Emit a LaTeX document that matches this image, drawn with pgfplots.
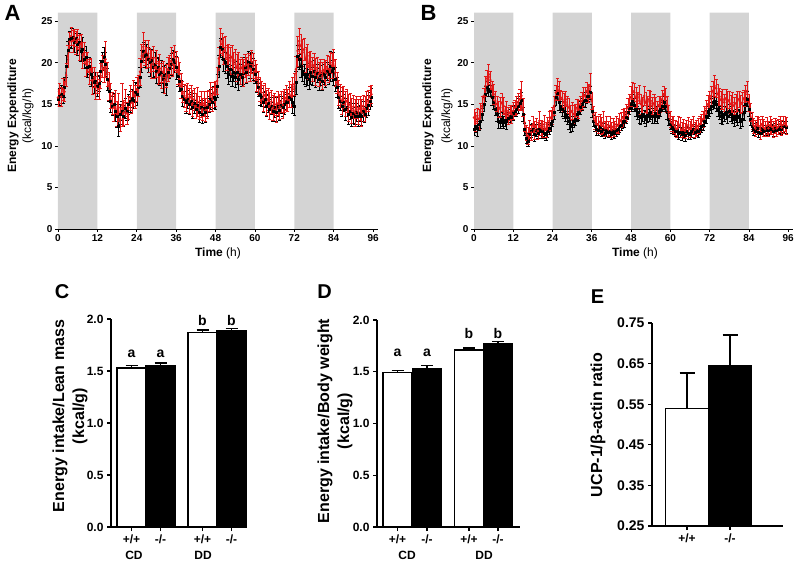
\documentclass[border=0pt]{standalone}
\usepackage{fontspec}
\setmainfont{Liberation Sans}
\usepackage{pgfplots}
\pgfplotsset{compat=1.18}
\usepackage{pgfplotstable}
\definecolor{band}{RGB}{212,212,212}
\definecolor{myred}{RGB}{226,22,22}

\pgfplotstableread{
t r re b be
0 15.8 1.0 15.6 0.9
0.5 16.3 1.2 15.9 1.0
1 15.9 1.1 16.2 1.1
1.5 16.8 1.3 16.0 0.9
2 16.5 1.2 17.0 1.2
2.5 18.5 1.4 19.6 1.3
3 20.8 1.3 21.5 1.1
3.5 22.5 1.2 22.8 1.0
4 23.2 1.1 22.9 1.2
4.5 22.6 1.3 23.1 1.0
5 23.0 1.0 22.4 1.1
5.5 22.4 1.4 22.9 0.9
6 22.8 1.2 22.2 1.3
6.5 21.8 1.5 22.5 1.0
7 22.3 1.1 21.4 1.2
7.5 20.9 1.6 21.6 1.4
8 21.2 1.3 20.4 1.1
8.5 19.8 1.4 20.7 1.3
9 20.1 1.2 19.5 1.2
9.5 18.9 1.5 19.6 1.0
10 19.2 1.3 18.6 1.4
10.5 17.8 1.6 18.3 1.2
11 18.2 1.2 17.6 1.3
11.5 17.0 1.4 17.8 1.1
12 17.6 1.3 17.2 1.2
12.5 16.8 1.2 17.5 1.0
13 18.4 1.5 19.0 1.3
13.5 19.6 1.3 20.2 1.1
14 19.2 1.6 20.6 1.2
14.5 20.4 2.2 19.8 1.4
15 18.6 1.4 18.0 1.3
15.5 17.2 1.7 16.6 1.2
16 16.0 1.5 15.4 1.4
16.5 15.1 1.3 14.8 1.1
17 14.6 1.6 15.0 1.3
17.5 15.3 1.4 14.2 1.2
18 13.8 1.5 13.6 1.4
18.5 14.6 1.7 12.4 1.3
19 13.2 1.4 13.8 1.2
19.5 14.9 2.6 14.2 1.1
20 14.0 1.5 13.6 1.3
20.5 15.2 1.6 14.5 1.2
21 13.9 1.3 14.1 1.0
21.5 14.6 1.4 15.0 1.2
22 15.8 1.5 15.3 1.3
22.5 15.2 1.3 15.7 1.1
23 16.3 1.6 15.5 1.0
23.5 15.9 1.4 16.4 1.2
24 16.8 1.5 16.2 1.3
24.5 17.2 1.3 17.0 1.1
25 18.9 1.6 18.2 1.2
25.5 20.8 1.4 20.2 1.3
26 21.9 1.8 21.4 1.1
26.5 21.2 1.5 20.8 1.4
27 20.6 1.3 21.0 1.2
27.5 21.1 1.6 20.4 1.5
28 20.3 1.4 20.0 1.6
28.5 19.8 1.7 20.3 1.3
29 20.5 1.5 19.4 1.2
29.5 19.4 1.3 19.8 1.4
30 19.9 1.6 19.0 1.5
30.5 18.8 1.4 19.4 1.2
31 19.3 1.7 18.6 1.3
31.5 18.4 1.5 18.9 1.4
32 18.9 1.3 18.0 1.6
32.5 17.9 1.6 18.5 1.2
33 18.4 1.4 17.4 1.3
33.5 19.2 1.5 18.8 1.1
34 19.6 1.3 19.3 1.2
34.5 20.2 1.6 19.8 1.3
35 19.8 1.4 20.4 1.1
35.5 20.6 1.5 20.0 1.2
36 20.1 1.3 19.4 1.4
36.5 19.0 1.6 18.4 1.2
37 18.6 1.4 17.8 1.3
37.5 17.2 1.5 16.8 1.1
38 16.5 1.3 16.0 1.2
38.5 16.0 1.4 15.6 1.0
39 15.7 1.6 15.2 1.3
39.5 16.2 1.3 15.6 1.1
40 15.4 1.5 15.0 1.2
40.5 15.9 1.4 15.4 1.0
41 15.1 1.6 14.6 1.3
41.5 15.6 1.3 15.1 1.2
42 14.8 1.5 14.4 1.1
42.5 15.3 1.7 14.9 1.0
43 14.6 1.4 14.0 1.2
43.5 15.0 1.6 14.6 0.9
44 14.4 1.3 13.8 1.1
44.5 15.1 1.5 14.5 1.0
45 14.3 1.4 14.0 1.2
45.5 14.9 1.6 14.6 1.1
46 15.4 1.3 15.0 1.0
46.5 16.1 1.5 15.6 1.2
47 15.6 1.4 15.2 1.1
47.5 16.4 1.2 15.8 1.3
48 16.2 1.5 15.6 1.2
48.5 17.8 1.6 17.2 1.4
49 20.5 1.4 19.6 1.3
49.5 22.6 1.5 21.8 1.1
50 22.2 1.3 21.6 1.2
50.5 21.4 1.6 20.4 1.4
51 21.8 1.4 20.0 1.3
51.5 20.6 1.5 19.6 1.5
52 20.9 1.3 18.6 1.2
52.5 20.2 1.6 19.2 1.4
53 20.7 1.4 18.4 1.3
53.5 19.8 1.5 18.9 1.1
54 20.3 1.3 18.2 1.2
54.5 19.4 1.6 18.8 1.4
55 19.9 1.4 18.0 1.3
55.5 18.9 1.5 18.6 1.2
56 19.4 1.3 18.2 1.1
56.5 18.8 1.6 18.7 1.3
57 19.6 1.4 19.4 1.2
57.5 19.1 1.5 18.9 1.4
58 19.8 1.3 20.1 1.3
58.5 19.3 1.6 19.6 1.5
59 20.1 1.4 20.0 1.2
59.5 19.6 1.5 19.2 1.3
60 19.0 1.3 18.6 1.1
60.5 18.2 1.6 17.6 1.2
61 17.6 1.4 17.0 1.0
61.5 16.8 1.5 16.2 1.3
62 16.4 1.3 15.8 1.1
62.5 15.7 1.6 15.2 1.2
63 16.1 1.4 15.6 1.0
63.5 15.2 1.5 14.8 1.3
64 15.6 1.3 15.1 1.1
64.5 14.8 1.6 14.4 1.2
65 15.3 1.4 14.8 1.0
65.5 14.6 1.5 14.1 1.1
66 15.0 1.3 14.6 1.2
66.5 14.4 1.6 14.0 1.0
67 15.1 1.4 14.7 1.1
67.5 14.7 1.5 14.3 1.2
68 15.3 1.3 14.9 1.0
68.5 14.9 1.6 14.6 1.1
69 15.4 1.4 15.0 1.2
69.5 15.8 1.5 15.4 1.0
70 15.5 1.3 15.2 1.1
70.5 16.2 1.6 15.8 1.2
71 16.0 1.4 15.6 1.0
71.5 16.8 1.5 15.2 1.3
72 17.4 1.3 14.8 1.1
72.5 19.2 1.6 17.6 1.4
73 21.4 1.8 20.8 1.3
73.5 22.6 1.5 20.4 1.2
74 22.0 1.4 19.6 1.4
74.5 21.2 1.6 19.0 1.3
75 21.6 1.3 18.6 1.2
75.5 20.4 1.5 18.2 1.1
76 20.8 1.4 18.6 1.3
76.5 19.6 1.6 18.0 1.2
77 20.1 1.3 18.8 1.4
77.5 19.2 1.5 18.4 1.1
78 19.7 1.4 19.0 1.3
78.5 18.9 1.6 18.2 1.2
79 19.4 1.3 18.7 1.1
79.5 18.6 1.5 18.0 1.3
80 19.0 1.4 18.5 1.2
80.5 18.4 1.6 17.8 1.1
81 19.1 1.3 18.6 1.2
81.5 18.8 1.5 18.3 1.3
82 19.5 1.4 19.0 1.1
82.5 19.2 1.6 18.6 1.2
83 20.0 1.3 19.6 1.8
83.5 19.6 1.5 19.0 1.3
84 20.2 1.4 19.3 2.0
84.5 18.8 1.6 18.0 1.4
85 17.6 1.3 17.0 1.2
85.5 16.4 1.5 15.8 1.3
86 16.0 1.4 15.4 1.1
86.5 15.4 1.6 14.8 1.2
87 15.8 1.3 15.2 1.0
87.5 15.0 1.5 14.4 1.3
88 15.4 1.4 14.6 1.1
88.5 14.6 1.6 13.8 1.2
89 15.0 1.3 14.2 1.0
89.5 14.2 1.5 13.4 1.1
90 14.7 1.4 13.9 1.2
90.5 14.0 1.6 13.6 1.0
91 14.6 1.3 14.0 1.1
91.5 14.1 1.5 13.5 1.2
92 14.5 1.4 13.9 1.0
92.5 14.0 1.6 13.6 1.1
93 14.8 1.3 14.2 1.2
93.5 14.4 1.5 13.8 1.0
94 15.1 1.4 14.5 1.1
94.5 15.4 1.3 14.9 1.2
95 15.9 1.2 15.4 1.0
95.5 16.2 1.1 15.8 1.1
}\dataA

\pgfplotstableread{
t r re b be
0 13.4 1.0 12.0 0.7
0.5 12.9 1.1 12.4 0.8
1 13.6 0.9 12.1 0.9
1.5 13.2 1.2 12.6 0.7
2 14.1 1.0 12.9 0.8
2.5 14.8 1.1 13.8 0.7
3 16.0 0.9 15.0 0.8
3.5 17.2 1.2 16.2 0.9
4 18.1 1.0 17.0 0.7
4.5 18.6 1.2 16.8 0.8
5 17.9 1.1 16.6 0.7
5.5 16.8 1.0 15.8 0.9
6 16.2 1.2 15.2 0.8
6.5 15.4 1.1 14.4 0.7
7 15.0 0.9 13.8 0.8
7.5 14.4 1.0 13.0 0.9
8 14.6 1.2 12.8 0.7
8.5 15.2 1.1 13.2 0.8
9 14.8 1.0 12.8 0.7
9.5 13.8 0.9 13.1 0.8
10 14.2 1.1 12.9 0.9
10.5 13.6 1.0 13.3 0.7
11 14.0 0.9 13.6 0.8
11.5 13.8 1.1 13.4 0.7
12 14.2 1.0 13.9 0.8
12.5 14.6 0.9 14.2 0.7
13 14.9 1.1 14.4 0.8
13.5 15.3 1.0 14.8 0.9
14 15.6 1.2 15.1 0.8
14.5 16.0 1.7 15.5 0.9
15 14.6 1.1 13.8 0.8
15.5 12.8 1.0 12.0 0.7
16 11.6 0.9 10.9 0.6
16.5 11.2 1.0 10.6 0.6
17 12.0 1.1 11.4 0.7
17.5 11.6 0.9 11.8 0.8
18 12.6 1.0 12.0 0.7
18.5 11.9 1.1 11.4 0.8
19 12.4 0.9 11.9 0.7
19.5 11.8 1.0 11.5 0.6
20 13.0 1.1 12.0 0.7
20.5 12.2 0.9 11.7 0.8
21 12.0 1.0 11.9 0.7
21.5 12.6 1.1 11.5 0.6
22 11.9 0.9 11.4 0.7
22.5 12.4 1.0 11.8 0.8
23 13.0 1.1 12.1 0.7
23.5 13.4 0.9 12.6 0.8
24 13.6 1.0 13.0 0.7
24.5 14.8 1.1 14.0 0.8
25 16.4 0.9 15.8 0.9
25.5 17.1 1.0 16.3 0.8
26 16.6 1.1 15.2 0.9
26.5 15.8 0.9 14.8 0.8
27 15.6 1.0 14.4 0.9
27.5 15.2 1.1 14.1 0.8
28 15.6 0.9 13.8 0.9
28.5 14.9 1.0 13.4 0.8
29 14.6 1.1 12.9 0.9
29.5 14.0 0.9 12.4 0.8
30 14.2 1.0 12.6 0.9
30.5 13.8 1.1 13.0 0.8
31 14.1 0.9 13.2 0.7
31.5 14.6 1.0 13.8 0.8
32 14.4 1.1 14.0 0.9
32.5 15.0 0.9 14.6 0.8
33 15.4 1.0 15.0 0.7
33.5 15.9 1.1 15.4 0.8
34 16.1 0.9 15.5 0.9
34.5 16.6 1.0 15.9 0.8
35 16.3 1.1 16.0 0.7
35.5 17.2 1.5 16.4 0.8
36 15.4 1.0 14.2 0.8
36.5 13.8 0.9 13.0 0.7
37 13.0 1.0 12.4 0.6
37.5 12.6 0.9 12.0 0.7
38 12.5 1.0 11.9 0.6
38.5 12.9 0.9 12.2 0.7
39 12.4 1.0 11.8 0.6
39.5 12.8 1.3 12.0 0.7
40 12.1 0.9 11.5 0.6
40.5 12.5 1.0 11.9 0.7
41 12.0 0.9 11.6 0.6
41.5 12.4 1.1 11.8 0.7
42 11.9 0.9 11.4 0.6
42.5 12.3 1.0 11.7 0.7
43 12.0 0.9 11.5 0.6
43.5 12.6 1.0 11.9 0.7
44 12.4 0.9 12.0 0.6
44.5 12.9 1.0 12.3 0.7
45 13.1 0.9 12.5 0.6
45.5 13.4 1.0 12.8 0.7
46 13.6 0.9 13.0 0.8
46.5 14.0 1.0 13.4 0.7
47 14.6 1.1 14.0 0.8
47.5 15.2 1.0 14.5 0.7
48 15.9 1.2 15.0 0.8
48.5 16.6 1.0 15.3 0.9
49 16.4 1.1 14.9 0.8
49.5 15.8 1.2 14.4 0.9
50 15.4 1.0 14.0 0.8
50.5 16.2 1.1 13.6 0.9
51 15.0 1.2 13.4 0.8
51.5 14.8 1.0 13.8 0.9
52 16.0 1.1 13.5 0.8
52.5 15.2 1.2 13.2 0.9
53 14.9 1.0 13.6 0.8
53.5 15.6 1.1 13.9 0.9
54 15.4 1.2 14.0 0.8
54.5 14.8 1.0 13.6 0.9
55 15.1 1.1 13.5 0.8
55.5 14.6 1.2 13.9 0.9
56 14.4 1.0 13.5 0.8
56.5 14.9 1.1 14.0 0.7
57 15.0 1.0 14.4 0.8
57.5 15.6 1.1 14.8 0.7
58 16.2 1.0 15.2 0.8
58.5 15.8 1.1 14.8 0.7
59 15.0 1.0 14.0 0.8
59.5 14.0 0.9 13.2 0.7
60 13.2 1.0 12.6 0.6
60.5 12.7 0.9 12.2 0.7
61 12.5 1.0 12.0 0.6
61.5 12.2 0.9 11.8 0.7
62 12.0 1.0 11.9 0.6
62.5 12.6 0.9 11.5 0.7
63 12.4 1.0 11.6 0.6
63.5 11.9 0.9 11.4 0.7
64 12.2 1.0 11.6 0.6
64.5 11.8 0.9 11.3 0.7
65 12.1 1.0 11.8 0.6
65.5 12.5 0.9 11.5 0.7
66 12.0 1.0 11.4 0.6
66.5 12.3 0.9 11.7 0.7
67 12.5 1.0 12.0 0.6
67.5 11.9 0.9 11.6 0.7
68 12.1 1.0 11.9 0.6
68.5 12.4 0.9 11.7 0.7
69 12.6 1.0 12.0 0.6
69.5 12.9 0.9 12.3 0.7
70 13.2 1.0 12.5 0.6
70.5 13.8 0.9 13.0 0.7
71 14.5 1.0 13.5 0.8
71.5 15.0 1.1 14.0 0.7
72 15.6 1.0 14.4 0.8
72.5 16.0 1.1 14.8 0.9
73 16.6 1.2 15.2 0.8
73.5 17.2 1.3 15.4 0.9
74 16.9 1.1 15.0 0.8
74.5 16.2 1.2 14.4 0.9
75 15.9 1.0 14.0 0.8
75.5 15.5 1.1 13.6 0.9
76 15.6 1.2 13.4 0.8
76.5 15.2 1.0 13.8 0.9
77 15.7 1.1 14.0 0.8
77.5 15.3 1.2 13.6 0.9
78 15.5 1.0 14.2 0.8
78.5 15.0 1.1 13.8 0.9
79 15.2 1.2 13.5 0.8
79.5 14.8 1.0 13.2 0.9
80 15.1 1.1 13.6 0.8
80.5 15.4 1.2 13.4 0.9
81 15.6 1.0 13.6 0.8
81.5 15.0 1.1 13.0 0.9
82 15.2 1.2 13.2 0.8
82.5 15.7 1.0 14.0 0.9
83 16.2 1.1 15.0 0.8
83.5 16.6 1.2 15.6 0.9
84 15.2 1.0 14.4 0.8
84.5 14.0 1.1 13.2 0.7
85 13.0 1.0 12.4 0.6
85.5 12.4 0.9 12.0 0.7
86 12.1 1.0 11.8 0.6
86.5 12.6 0.9 12.1 0.7
87 12.4 1.0 11.6 0.6
87.5 12.0 1.2 11.5 0.7
88 12.6 0.9 12.0 0.6
88.5 12.2 1.0 11.8 0.7
89 12.0 0.9 11.9 0.6
89.5 12.4 1.0 12.2 0.7
90 12.1 0.9 11.9 0.6
90.5 12.5 1.0 12.1 0.7
91 12.3 0.9 12.0 0.6
91.5 12.0 1.0 11.8 0.7
92 12.4 0.9 12.1 0.6
92.5 12.1 1.0 11.9 0.7
93 12.3 0.9 12.0 0.6
93.5 12.6 1.0 12.2 0.7
94 12.2 0.9 12.0 0.6
94.5 12.5 1.0 12.3 0.7
95 12.7 0.9 12.4 0.6
95.5 12.4 1.0 12.2 0.7
}\dataB

\pgfplotsset{
  tsaxis/.style={
    anchor=south west, scale only axis, width=320pt, height=216.3pt,
    xmin=0, xmax=97.5, ymin=0, ymax=26,
    axis lines*=left, axis line style={line width=0.8pt},
    xtick={0,12,...,96}, ytick={0,5,...,25},
    tick align=outside, major tick length=3pt,
    tick style={black, line width=0.6pt},
    tick label style={font=\bfseries\fontsize{10}{12}\selectfont},
    /pgf/number format/assume math mode=true,
    xticklabel style={yshift=1pt}, yticklabel style={xshift=1pt},
  },
  blk/.style={black, line width=0.5pt, mark=square*, mark size=1pt,
    error bars/y dir=both, error bars/y explicit,
    error bars/error bar style={line width=0.5pt, black},
    error bars/error mark options={rotate=90, mark size=1.6pt, line width=0.5pt, black}},
  rd/.style={myred, line width=0.5pt, mark=*, mark size=1pt,
    error bars/y dir=both, error bars/y explicit,
    error bars/error bar style={line width=0.5pt, myred},
    error bars/error mark options={rotate=90, mark size=1.6pt, line width=0.5pt, myred}},
  barax/.style={
    anchor=south west, scale only axis, axis lines*=left,
    axis line style={line width=1.5pt}, clip mode=individual,
    tick align=outside, major tick length=4pt,
    tick style={black, line width=1.3pt},
    tick label style={font=\bfseries\fontsize{12}{14}\selectfont},
    /pgf/number format/assume math mode=true,
  },
  errcap/.style={error bars/error mark options={rotate=90, mark size=#1, line width=1.4pt, black}},
  wbar/.style={ybar, bar width=29, bar shift=0pt, fill=white, draw=black, line width=1.4pt,
    error bars/y dir=plus, error bars/y explicit,
    error bars/error bar style={line width=1.4pt, black}, errcap=6pt},
  kbar/.style={ybar, bar width=29, bar shift=0pt, fill=black, draw=black, line width=1.4pt,
    error bars/y dir=plus, error bars/y explicit,
    error bars/error bar style={line width=1.4pt, black}, errcap=6pt},
}

\begin{document}
\begin{tikzpicture}
\path[use as bounding box] (0pt,0pt) rectangle (800pt,562pt);

% ---------- Panel A ----------
\begin{axis}[tsaxis, at={(58pt,333pt)}]
\addplot[fill=band, draw=none] coordinates {(0,0) (0,26) (12,26) (12,0)} \closedcycle;
\addplot[fill=band, draw=none] coordinates {(24,0) (24,26) (36,26) (36,0)} \closedcycle;
\addplot[fill=band, draw=none] coordinates {(48,0) (48,26) (60,26) (60,0)} \closedcycle;
\addplot[fill=band, draw=none] coordinates {(72,0) (72,26) (84,26) (84,0)} \closedcycle;
\addplot[blk] table[x=t, y=b, y error=be] {\dataA};
\addplot[rd] table[x=t, y=r, y error=re] {\dataA};
\end{axis}

% ---------- Panel B ----------
\begin{axis}[tsaxis, at={(474pt,333pt)}, width=319pt]
\addplot[fill=band, draw=none] coordinates {(0,0) (0,26) (12,26) (12,0)} \closedcycle;
\addplot[fill=band, draw=none] coordinates {(24,0) (24,26) (36,26) (36,0)} \closedcycle;
\addplot[fill=band, draw=none] coordinates {(48,0) (48,26) (60,26) (60,0)} \closedcycle;
\addplot[fill=band, draw=none] coordinates {(72,0) (72,26) (84,26) (84,0)} \closedcycle;
\addplot[blk] table[x=t, y=b, y error=be] {\dataB};
\addplot[rd] table[x=t, y=r, y error=re] {\dataB};
\end{axis}

% labels top
\node[font=\bfseries\fontsize{22}{24}\selectfont] at (12.5pt,549pt) {A};
\node[font=\bfseries\fontsize{22}{24}\selectfont] at (428.5pt,549pt) {B};
\node[rotate=90, font=\bfseries\fontsize{12}{14}\selectfont] at (13pt,446pt) {Energy Expenditure};
\node[rotate=90, font=\fontsize{12}{14}\selectfont] at (28pt,446pt) {(kcal/kg/h)};
\node[rotate=90, font=\bfseries\fontsize{12}{14}\selectfont] at (428pt,446pt) {Energy Expenditure};
\node[rotate=90, font=\fontsize{12}{14}\selectfont] at (447pt,446pt) {(kcal/kg/h)};
\node[font=\fontsize{12}{14}\selectfont] at (218pt,309pt) {\textbf{Time} (h)};
\node[font=\fontsize{12}{14}\selectfont] at (635pt,309pt) {\textbf{Time} (h)};

% ---------- Panel C ----------
\begin{axis}[barax, at={(111pt,35pt)}, width=136pt, height=208pt,
  xmin=0, xmax=136, ymin=0, ymax=2,
  xtick={20.5,49.5,91.5,120.5}, xticklabels={+/+,-/-,+/+,-/-},
  ytick={0,0.5,1,1.5,2},
  yticklabel style={/pgf/number format/.cd, fixed, fixed zerofill, precision=1}]
\addplot[wbar] coordinates {(20.5,1.53) +- (0,0.02) (91.5,1.87) +- (0,0.025)};
\addplot[kbar] coordinates {(49.5,1.55) +- (0,0.025) (120.5,1.89) +- (0,0.02)};
\node[font=\bfseries\fontsize{14}{16}\selectfont] at (axis cs:20.5,1.67) {a};
\node[font=\bfseries\fontsize{14}{16}\selectfont] at (axis cs:49.5,1.67) {a};
\node[font=\bfseries\fontsize{14}{16}\selectfont] at (axis cs:91.5,1.99) {b};
\node[font=\bfseries\fontsize{14}{16}\selectfont] at (axis cs:120.5,1.99) {b};
\end{axis}
\node[font=\bfseries\fontsize{12}{14}\selectfont] at (134pt,7pt) {CD};
\node[font=\bfseries\fontsize{12}{14}\selectfont] at (203pt,7pt) {DD};
\node[font=\bfseries\fontsize{20}{22}\selectfont] at (62pt,270pt) {C};
\node[rotate=90, font=\bfseries\fontsize{16}{18}\selectfont] at (60pt,146pt) {Energy intake/Lean mass};
\node[rotate=90, font=\bfseries\fontsize{16}{18}\selectfont] at (80pt,146pt) {(kcal/g)};

% ---------- Panel D ----------
\begin{axis}[barax, at={(377pt,35pt)}, width=143pt, height=207pt,
  xmin=0, xmax=143, ymin=0, ymax=2,
  xtick={20.5,50,92,121}, xticklabels={+/+,-/-,+/+,-/-},
  ytick={0,0.5,1,1.5,2},
  yticklabel style={/pgf/number format/.cd, fixed, fixed zerofill, precision=1}]
\addplot[wbar] coordinates {(20.5,1.49) +- (0,0.02) (92,1.71) +- (0,0.02)};
\addplot[kbar] coordinates {(50,1.53) +- (0,0.03) (121,1.77) +- (0,0.02)};
\node[font=\bfseries\fontsize{14}{16}\selectfont] at (axis cs:20.5,1.68) {a};
\node[font=\bfseries\fontsize{14}{16}\selectfont] at (axis cs:50,1.68) {a};
\node[font=\bfseries\fontsize{14}{16}\selectfont] at (axis cs:92,1.87) {b};
\node[font=\bfseries\fontsize{14}{16}\selectfont] at (axis cs:121,1.87) {b};
\end{axis}
\node[font=\bfseries\fontsize{12}{14}\selectfont] at (407pt,7pt) {CD};
\node[font=\bfseries\fontsize{12}{14}\selectfont] at (484pt,7pt) {DD};
\node[font=\bfseries\fontsize{20}{22}\selectfont] at (324.5pt,270pt) {D};
\node[rotate=90, font=\bfseries\fontsize{16}{18}\selectfont] at (325pt,141pt) {Energy intake/Body weight};
\node[rotate=90, font=\bfseries\fontsize{16}{18}\selectfont] at (345pt,141pt) {(kcal/g)};

% ---------- Panel E ----------
\begin{axis}[barax, at={(652pt,36pt)}, width=131pt, height=203pt,
  xmin=0, xmax=131, ymin=0.25, ymax=0.75,
  xtick={35,78}, xticklabels={+/+,-/-},
  ytick={0.25,0.35,0.45,0.55,0.65,0.75},
  yticklabel style={font=\bfseries\fontsize{14}{16}\selectfont, /pgf/number format/.cd, fixed, fixed zerofill, precision=2}]
\addplot[wbar, bar width=43, errcap=7.5pt] coordinates {(35,0.54) +- (0,0.087)};
\addplot[kbar, bar width=43, errcap=7.5pt] coordinates {(78,0.645) +- (0,0.075)};
\end{axis}
\node[font=\bfseries\fontsize{20}{22}\selectfont] at (597.5pt,265pt) {E};
\node[rotate=90, font=\bfseries\fontsize{16}{18}\selectfont] at (598pt,137pt) {UCP-1/β-actin ratio};
\end{tikzpicture}
\end{document}
